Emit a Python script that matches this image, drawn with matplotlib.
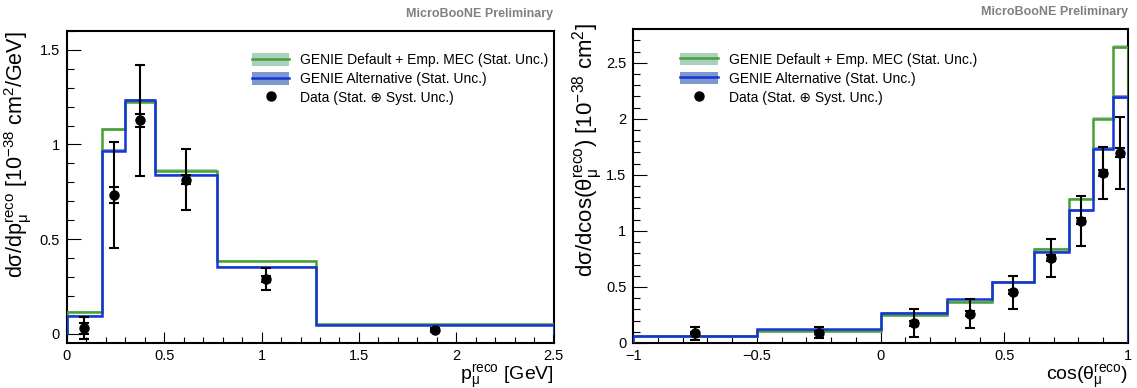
import matplotlib
matplotlib.use("Agg")
import numpy as np
import matplotlib.pyplot as plt
from matplotlib.patches import Patch
from matplotlib.lines import Line2D
from matplotlib.ticker import MultipleLocator

plt.rcParams["font.family"] = ["Liberation Sans", "DejaVu Sans"]
plt.rcParams["mathtext.fontset"] = "custom"
plt.rcParams["mathtext.rm"] = "Liberation Sans"
plt.rcParams["mathtext.it"] = "Liberation Sans:italic"
plt.rcParams["mathtext.bf"] = "Liberation Sans:bold"

# ==========================================
# DATA - muon momentum
# ==========================================
p_edges = [0.0, 0.18, 0.30, 0.45, 0.77, 1.28, 2.5]
p_default = [0.115, 1.08, 1.225, 0.862, 0.385, 0.05]
p_alt = [0.094, 0.966, 1.234, 0.837, 0.351, 0.046]
p_mc_err = [0.006, 0.008, 0.008, 0.006, 0.004, 0.002]
p_data = [0.028, 0.732, 1.128, 0.814, 0.289, 0.018]
p_tot_err = [0.057, 0.28, 0.295, 0.162, 0.059, 0.01]
p_stat_err = [0.03, 0.044, 0.034, 0.025, 0.015, 0.004]

# ==========================================
# DATA - muon cos(theta)
# ==========================================
c_edges = [-1.0, -0.5, 0.0, 0.27, 0.45, 0.62, 0.76, 0.86, 0.94, 1.0]
c_default = [0.062, 0.11, 0.248, 0.37, 0.54, 0.836, 1.284, 2.0, 2.639]
c_alt = [0.066, 0.122, 0.266, 0.388, 0.543, 0.812, 1.182, 1.734, 2.197]
c_mc_err = [0.003, 0.004, 0.006, 0.007, 0.008, 0.01, 0.012, 0.015, 0.018]
c_data = [0.087, 0.093, 0.176, 0.263, 0.454, 0.758, 1.087, 1.516, 1.696]
c_tot_err = [0.056, 0.047, 0.127, 0.125, 0.147, 0.173, 0.22, 0.236, 0.32]
c_stat_err = [0.01, 0.01, 0.02, 0.02, 0.02, 0.025, 0.03, 0.03, 0.04]

GREEN = "#47a02f"
GREEN_BAND = "#a9cfbf"
BLUE = "#1535d8"
BLUE_BAND = "#7d98cf"


def draw_panel(ax, edges, default, alt, mc_err, data, tot_err, stat_err):
    edges = np.array(edges)
    centers = 0.5 * (edges[1:] + edges[:-1])
    for vals, col, band in [(default, GREEN, GREEN_BAND), (alt, BLUE, BLUE_BAND)]:
        vals = np.array(vals)
        err = np.array(mc_err)
        ax.stairs(vals + err, edges, baseline=vals - err, fill=True,
                  color=band, lw=0, zorder=2)
        ax.stairs(vals, edges, baseline=0, color=col, lw=1.8, zorder=3)
    ax.errorbar(centers, data, yerr=tot_err, fmt="o", color="black", ms=6.5,
                lw=1.5, capsize=3.5, capthick=1.5, zorder=5)
    ax.errorbar(centers, data, yerr=stat_err, fmt="none", color="black",
                lw=1.5, capsize=3.5, capthick=1.5, zorder=5)

    ax.tick_params(which="both", direction="in", top=False, right=False,
                   labelsize=10.5)
    ax.tick_params(axis="y", which="major", length=10, width=0.8, pad=5)
    ax.tick_params(axis="y", which="minor", length=5, width=0.8)
    ax.tick_params(axis="x", which="major", length=8, width=0.8, pad=4)
    ax.tick_params(axis="x", which="minor", length=4.5, width=0.8)
    ax.xaxis.set_major_locator(MultipleLocator(0.5))
    ax.xaxis.set_minor_locator(MultipleLocator(0.1))
    ax.yaxis.set_major_locator(MultipleLocator(0.5))
    ax.yaxis.set_minor_locator(MultipleLocator(0.1))
    ax.xaxis.set_major_formatter(plt.FuncFormatter(lambda v, p: f"{v:g}".replace("-", "\u2212")))
    ax.yaxis.set_major_formatter(plt.FuncFormatter(lambda v, p: f"{v:g}"))
    for s in ax.spines.values():
        s.set_linewidth(1.5)

    handles = [
        (Patch(facecolor=GREEN_BAND, lw=0), Line2D([], [], color=GREEN, lw=1.8)),
        (Patch(facecolor=BLUE_BAND, lw=0), Line2D([], [], color=BLUE, lw=1.8)),
        Line2D([], [], marker="o", color="black", ls="none", ms=6.5),
    ]
    labels = ["GENIE Default + Emp. MEC (Stat. Unc.)",
              "GENIE Alternative (Stat. Unc.)",
              "Data (Stat. \u2295 Syst. Unc.)"]
    ax.text(1.0, 1.035, "MicroBooNE Preliminary", transform=ax.transAxes,
            ha="right", va="bottom", color="#808080", fontsize=9, fontweight="bold")
    return handles, labels


fig = plt.figure(figsize=(11.37, 3.88), dpi=100)
ax1 = fig.add_axes([0.0589, 0.116, 0.428, 0.804])
ax2 = fig.add_axes([0.557, 0.116, 0.435, 0.809])

h, l = draw_panel(ax1, p_edges, p_default, p_alt, p_mc_err, p_data, p_tot_err, p_stat_err)
ax1.set_xlim(0, 2.5)
ax1.set_ylim(-0.05, 1.6)
ax1.set_xlabel("p$_{\\mathrm{\u03bc}}^{\\mathrm{reco}}$ [GeV]", loc="right", fontsize=14, labelpad=0)
ax1.set_ylabel("d\u03c3/dp$_{\\mathrm{\u03bc}}^{\\mathrm{reco}}$ [10$^{\\mathrm{-38}}$ cm$^{\\mathrm{2}}$/GeV]",
               loc="top", fontsize=15.5)
ax1.yaxis.set_label_coords(-0.068, 1.0)
ax1.legend(h, l, loc="upper left", bbox_to_anchor=(0.36, 0.96), frameon=False,
           fontsize=10, handlelength=2.7, handleheight=1.0, labelspacing=0.35,
           handletextpad=0.8, borderpad=0.2)

h, l = draw_panel(ax2, c_edges, c_default, c_alt, c_mc_err, c_data, c_tot_err, c_stat_err)
ax2.set_xlim(-1, 1)
ax2.set_ylim(0, 2.8)
ax2.set_xlabel("cos(\u03b8$_{\\mathrm{\u03bc}}^{\\mathrm{reco}}$)", loc="right", fontsize=14, labelpad=0)
ax2.set_ylabel("d\u03c3/dcos(\u03b8$_{\\mathrm{\u03bc}}^{\\mathrm{reco}}$) [10$^{\\mathrm{-38}}$ cm$^{\\mathrm{2}}$]",
               loc="top", fontsize=16)
ax2.yaxis.set_label_coords(-0.058, 1.02)
ax2.legend(h, l, loc="upper left", bbox_to_anchor=(0.075, 0.955), frameon=False,
           fontsize=10, handlelength=2.7, handleheight=1.0, labelspacing=0.35,
           handletextpad=0.8, borderpad=0.2)

fig.savefig("out.png", dpi=100)
